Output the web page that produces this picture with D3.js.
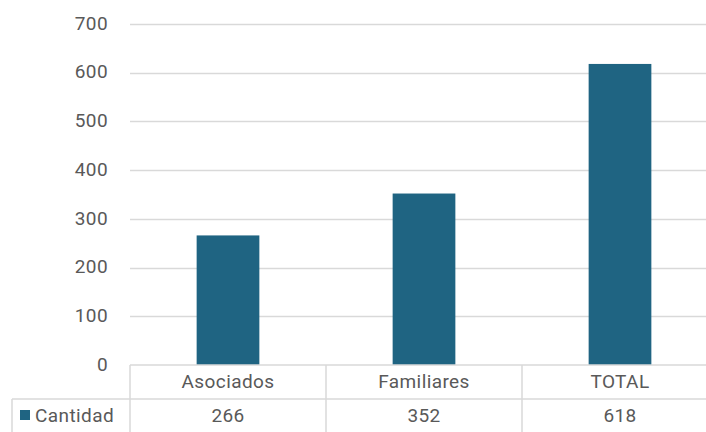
<!DOCTYPE html>
<html>
<head>
  <meta charset="UTF-8">
  <script src="https://d3js.org/d3.v7.min.js"></script>
  <style>
    body { margin: 0; background: #fff; }
    text { font-family: Roboto, sans-serif; fill: #595959; font-size: 19px; letter-spacing: 0.4px; }
  </style>
</head>
<body>
  <div id="chart"></div>
  <script>
    const categories = ["Asociados", "Familiares", "TOTAL"];
    const values = [266, 352, 618];
    const seriesName = "Cantidad";
    const yTicks = [0, 100, 200, 300, 400, 500, 600, 700];

    const W = 706, H = 432;
    const plotLeft = 130, plotRight = 718, plotTop = 24, plotBottom = 365;
    const rowH = 34;

    const svg = d3.select("#chart").append("svg")
      .attr("width", W).attr("height", H);

    const x = d3.scaleBand().domain(categories).range([plotLeft, plotRight]);
    const y = d3.scaleLinear().domain([0, 700]).range([plotBottom, plotTop]);

    // gridlines
    svg.append("g").selectAll("line")
      .data(yTicks.filter(d => d > 0))
      .enter().append("line")
      .attr("x1", plotLeft).attr("x2", plotRight)
      .attr("y1", d => Math.round(y(d)) + 0.5).attr("y2", d => Math.round(y(d)) + 0.5)
      .attr("stroke", "#d9d9d9").attr("stroke-width", 1.3);

    // y labels
    svg.append("g").selectAll("text")
      .data(yTicks)
      .enter().append("text")
      .attr("x", 108).attr("y", d => y(d))
      .attr("dy", "0.3em")
      .attr("text-anchor", "end")
      .text(d => d);

    // bars
    const bw = x.bandwidth() * 0.32;
    svg.append("g").selectAll("rect")
      .data(values)
      .enter().append("rect")
      .attr("x", (d, i) => x(categories[i]) + (x.bandwidth() - bw) / 2)
      .attr("y", d => y(d))
      .attr("width", bw)
      .attr("height", d => plotBottom - y(d))
      .attr("fill", "#1f6482");

    // data table
    const t = svg.append("g").attr("stroke", "#d9d9d9").attr("stroke-width", 1.5);
    t.append("line").attr("x1", plotLeft).attr("x2", plotRight).attr("y1", plotBottom).attr("y2", plotBottom);
    t.append("line").attr("x1", 12).attr("x2", plotRight).attr("y1", plotBottom + rowH).attr("y2", plotBottom + rowH);
    t.append("line").attr("x1", 12).attr("x2", 12).attr("y1", plotBottom + rowH).attr("y2", H + 2);
    t.selectAll(".v").data(categories).enter().append("line")
      .attr("x1", d => x(d)).attr("x2", d => x(d))
      .attr("y1", plotBottom).attr("y2", H + 2);

    svg.append("g").selectAll("text")
      .data(categories)
      .enter().append("text")
      .attr("x", d => x(d) + x.bandwidth() / 2)
      .attr("y", plotBottom + rowH / 2)
      .attr("dy", "0.32em")
      .attr("text-anchor", "middle")
      .text(d => d);

    svg.append("g").selectAll("text")
      .data(values)
      .enter().append("text")
      .attr("x", (d, i) => x(categories[i]) + x.bandwidth() / 2)
      .attr("y", plotBottom + rowH * 1.5)
      .attr("dy", "0.32em")
      .attr("text-anchor", "middle")
      .text(d => d);

    svg.append("rect")
      .attr("x", 20).attr("y", 410).attr("width", 10).attr("height", 10)
      .attr("fill", "#1f6482");
    svg.append("text")
      .attr("x", 35).attr("y", plotBottom + rowH * 1.5)
      .attr("dy", "0.32em")
      .text(seriesName);
  </script>
</body>
</html>
